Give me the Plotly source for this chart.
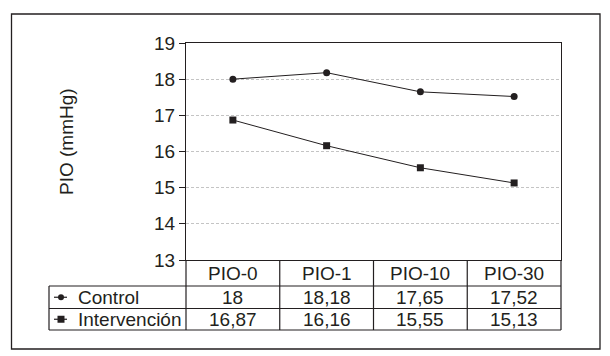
import plotly.graph_objects as go

# ---- data ----
categories = ["PIO-0", "PIO-1", "PIO-10", "PIO-30"]
control = [18.00, 18.18, 17.65, 17.52]
intervencion = [16.87, 16.16, 15.55, 15.13]
series_names = ["Control", "Intervención"]
y_title = "PIO (mmHg)"
y_ticks = [13, 14, 15, 16, 17, 18, 19]

INK = "#231f20"
FONT = "Liberation Sans, Arial, sans-serif"
W, H = 610, 356
L, R, T, B = 186, 561, 43, 260  # plot area in px


def px_x(p):
    return (p - L) / (R - L)


def px_y(p):
    return (B - p) / (B - T)


def fmt(v):
    return f"{v:g}".replace(".", ",")


xs = list(range(len(categories)))

fig = go.Figure()
fig.add_trace(go.Scatter(
    x=xs, y=control, mode="lines+markers", name=series_names[0],
    line=dict(color=INK, width=1),
    marker=dict(symbol="circle", size=7, color=INK),
    showlegend=False,
))
fig.add_trace(go.Scatter(
    x=xs, y=intervencion, mode="lines+markers", name=series_names[1],
    line=dict(color=INK, width=1),
    marker=dict(symbol="square", size=7, color=INK),
    showlegend=False,
))

shapes = []
annotations = []

# outer border
shapes.append(dict(type="rect", xref="paper", yref="paper",
                   x0=px_x(11.5), x1=px_x(600), y0=px_y(349), y1=px_y(14),
                   line=dict(color=INK, width=1.3), fillcolor="rgba(0,0,0,0)"))

# table geometry (px)
row_lines = [286, 308.5, 330]
legend_left = 49
tab_bottom = row_lines[-1]

# horizontal table lines
for yy in row_lines:
    shapes.append(dict(type="line", xref="paper", yref="paper",
                       x0=px_x(legend_left), x1=1, y0=px_y(yy), y1=px_y(yy),
                       line=dict(color=INK, width=1.2)))
# plot-left / plot-right continuing into table
for xx in [0, 1]:
    shapes.append(dict(type="line", xref="paper", yref="paper",
                       x0=xx, x1=xx, y0=0, y1=px_y(tab_bottom),
                       line=dict(color=INK, width=1.2)))
# legend box left edge
shapes.append(dict(type="line", xref="paper", yref="paper",
                   x0=px_x(legend_left), x1=px_x(legend_left),
                   y0=px_y(row_lines[0]), y1=px_y(tab_bottom),
                   line=dict(color=INK, width=1.2)))
# column separators (data coords)
for i in range(len(categories) - 1):
    shapes.append(dict(type="line", xref="x", yref="paper",
                       x0=i + 0.5, x1=i + 0.5, y0=0, y1=px_y(tab_bottom),
                       line=dict(color=INK, width=1.2)))

# header labels and values
header_c = (B + row_lines[0]) / 2
row_c = [(row_lines[0] + row_lines[1]) / 2, (row_lines[1] + row_lines[2]) / 2]
for i, c in enumerate(categories):
    annotations.append(dict(x=i, xref="x", y=px_y(header_c + 0.5), yref="paper",
                            text=c, showarrow=False, xanchor="center", yanchor="middle",
                            font=dict(size=19, color=INK, family=FONT)))
for vals, rc in [(control, row_c[0]), (intervencion, row_c[1])]:
    for i, v in enumerate(vals):
        annotations.append(dict(x=i, xref="x", y=px_y(rc), yref="paper",
                                text=fmt(v), showarrow=False,
                                xanchor="center", yanchor="middle",
                                font=dict(size=19, color=INK, family=FONT)))

# legend entries in table
for name, rc in zip(series_names, row_c):
    annotations.append(dict(x=px_x(76), xref="paper", y=px_y(rc), yref="paper",
                            text=name, showarrow=False, xanchor="left", yanchor="middle",
                            font=dict(size=19, color=INK, family=FONT)))
    shapes.append(dict(type="line", xref="paper", yref="paper",
                       x0=px_x(54), x1=px_x(67), y0=px_y(rc), y1=px_y(rc),
                       line=dict(color=INK, width=1.2)))
# circle marker symbol
shapes.append(dict(type="circle", xref="paper", yref="paper",
                   x0=px_x(58), x1=px_x(64), y0=px_y(row_c[0] + 3), y1=px_y(row_c[0] - 3),
                   line=dict(color=INK, width=0), fillcolor=INK))
# square marker symbol
shapes.append(dict(type="rect", xref="paper", yref="paper",
                   x0=px_x(57.5), x1=px_x(64.5), y0=px_y(row_c[1] + 3.5), y1=px_y(row_c[1] - 3.5),
                   line=dict(color=INK, width=0), fillcolor=INK))

# y title
annotations.append(dict(x=px_x(66), xref="paper", y=px_y(142), yref="paper",
                        text=y_title, showarrow=False, textangle=-90,
                        xanchor="center", yanchor="middle",
                        font=dict(size=19, color=INK, family=FONT)))

fig.update_layout(
    width=W, height=H,
    margin=dict(l=L, r=W - R, t=T, b=H - B, pad=0),
    paper_bgcolor="white", plot_bgcolor="white",
    font=dict(family=FONT, size=19, color=INK),
    shapes=shapes, annotations=annotations,
    xaxis=dict(range=[-0.5, len(categories) - 0.5], showticklabels=False,
               showgrid=False, zeroline=False, showline=True, mirror=True,
               linecolor=INK, linewidth=1.2, ticks=""),
    yaxis=dict(range=[13, 19], tickvals=y_ticks, showgrid=True,
               gridcolor="#c4c4c4", griddash="3px,2px", gridwidth=1,
               zeroline=False, showline=True, mirror=True,
               linecolor=INK, linewidth=1.2, ticks="outside", ticklen=6,
               tickcolor=INK, tickwidth=1.2,
               tickfont=dict(size=19, color=INK, family=FONT)),
)

fig.write_html("out.html", config={"displayModeBar": False},
               post_script="document.body.style.margin='0';document.body.style.padding='0';document.body.style.overflow='hidden';")
